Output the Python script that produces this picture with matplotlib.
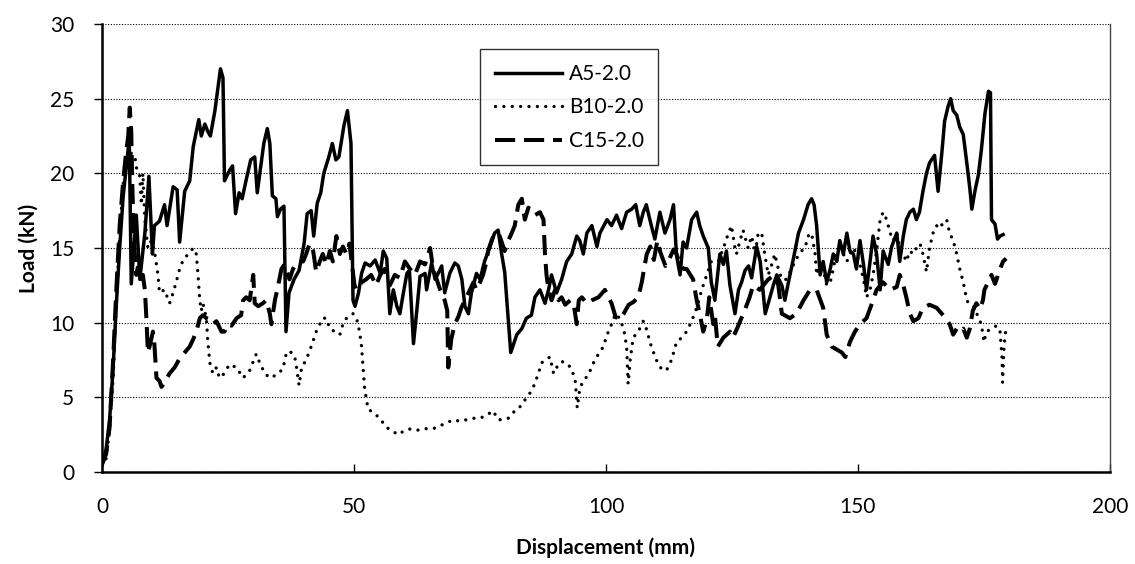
import matplotlib
matplotlib.use("Agg")
import matplotlib.pyplot as plt

plt.rcParams['font.family'] = ['Lato', 'DejaVu Sans']

# A5-2.0 (solid)
a5_x = [0.0, 0.8, 1.5, 2.2, 2.8, 3.5, 4.2, 5.0, 5.4, 5.8, 6.8, 7.5, 8.5, 9.3, 10.0, 10.4, 11.4, 12.4,
        12.9, 14.1, 14.9, 15.4, 16.4, 17.4, 18.1, 19.2, 19.7, 20.4, 21.0, 21.5, 22.4, 23.5, 24.0, 24.3,
        25.3, 25.9, 26.5, 27.2, 27.8, 28.5, 29.5, 30.3, 30.8, 31.5, 32.1, 32.8, 33.3, 33.8, 34.5, 34.8,
        35.4, 36.1, 36.5, 37.1, 38.1, 39.1, 40.1, 40.7, 41.5, 42.0, 42.7, 43.4, 44.0, 45.0, 45.7, 46.4,
        47.0, 48.0, 48.7, 49.4, 49.8, 50.2, 50.9, 51.5, 52.2, 53.2, 54.2, 55.2, 55.8, 56.5, 57.1, 57.8,
        58.5, 59.1, 59.8, 60.5, 61.0, 61.8, 62.4, 63.1, 64.1, 64.4, 65.4, 66.1, 66.7, 67.4, 68.0, 69.0,
        70.0, 70.7, 71.4, 72.0, 72.7, 73.3, 74.3, 75.0, 75.9, 76.9, 77.9, 78.6, 79.3, 79.9, 80.6, 81.1,
        81.6, 82.3, 83.3, 84.2, 85.2, 85.9, 86.9, 87.9, 88.6, 89.2, 90.2, 91.2, 92.2, 93.2, 94.2, 94.8,
        95.5, 96.2, 97.2, 98.2, 98.8, 100.2, 101.1, 102.1, 103.1, 104.1, 105.1, 105.9, 106.7, 107.4,
        108.0, 109.0, 109.7, 110.7, 111.7, 112.7, 113.4, 114.0, 114.7, 115.3, 116.0, 117.0, 118.0,
        118.6, 119.3, 120.3, 120.9, 121.6, 122.6, 123.3, 123.9, 124.6, 125.6, 126.3, 126.9, 127.6,
        128.3, 128.9, 129.9, 130.6, 131.6, 132.2, 133.2, 133.9, 134.9, 135.5, 136.2, 137.2, 138.2,
        139.2, 140.1, 140.8, 141.3, 141.8, 142.5, 143.1, 143.8, 144.5, 145.1, 145.8, 146.4, 147.1,
        147.8, 148.4, 149.1, 149.7, 150.4, 151.1, 151.7, 152.4, 153.0, 153.7, 154.4, 155.0, 156.0,
        156.7, 157.7, 158.3, 159.0, 159.6, 160.3, 161.0, 161.6, 162.2, 162.9, 163.6, 164.2, 165.2,
        165.9, 166.6, 167.2, 167.9, 168.4, 168.9, 169.6, 170.2, 170.9, 171.6, 172.2, 172.6, 173.2,
        173.9, 174.5, 175.2, 175.9, 176.3, 176.5, 177.2, 177.7, 178.2, 178.8]
a5_y = [0.5, 1.5, 3.5, 7.0, 11.0, 15.0, 18.5, 21.0, 22.4, 12.6, 17.2, 12.9, 16.0, 19.8, 14.6, 16.5, 16.8, 17.9,
        16.5, 19.1, 18.9, 15.4, 18.8, 19.5, 21.8, 23.6, 22.5, 23.3, 22.8, 22.5, 24.2, 27.0, 26.4, 19.5,
        20.2, 20.5, 17.3, 18.7, 18.3, 19.4, 20.9, 21.1, 18.7, 20.5, 22.0, 23.0, 22.0, 18.5, 18.3, 17.1,
        17.6, 17.8, 9.4, 12.0, 12.9, 13.5, 15.3, 17.3, 17.5, 15.8, 18.0, 18.7, 20.0, 21.1, 22.0, 20.9,
        21.1, 23.2, 24.2, 22.0, 11.5, 11.1, 12.0, 13.3, 14.0, 13.8, 14.2, 13.3, 14.8, 14.3, 10.6, 12.2,
        11.1, 10.6, 12.0, 13.3, 13.5, 8.6, 10.6, 13.1, 13.3, 12.2, 14.0, 12.9, 13.3, 13.8, 12.0, 13.3,
        14.0, 13.8, 12.9, 11.1, 10.6, 12.0, 13.3, 12.9, 14.1, 15.0, 16.0, 16.2, 14.6, 13.4, 10.3, 8.0,
        8.5, 9.2, 9.6, 10.3, 10.5, 11.7, 12.2, 11.3, 12.2, 13.2, 12.0, 12.9, 14.1, 14.6, 15.8, 15.5,
        14.6, 16.0, 16.5, 15.1, 16.0, 16.9, 16.5, 17.2, 16.3, 17.4, 17.6, 17.9, 16.5, 17.4,
        17.9, 16.5, 15.6, 17.4, 16.0, 16.9, 17.9, 14.5, 13.2, 15.4, 15.0, 16.9, 17.4,
        16.5, 15.8, 15.0, 12.7, 11.5, 14.6, 13.9, 14.8, 12.5, 10.6, 12.2, 12.7, 13.5,
        13.8, 13.0, 15.1, 14.1, 10.6, 11.3, 12.5, 13.2, 12.5, 11.5, 12.7, 14.3, 16.0,
        16.9, 17.9, 18.3, 17.9, 16.5, 13.2, 14.1, 12.7, 13.6, 14.6, 14.1, 15.5, 14.6,
        16.0, 14.8, 14.6, 13.6, 15.5, 13.9, 12.2, 14.1, 15.8, 14.6, 12.2, 14.8, 13.9,
        15.1, 16.0, 14.1, 15.8, 16.9, 17.4, 17.6, 16.9, 17.4, 18.8, 20.0, 20.7, 21.2,
        18.8, 21.2, 23.5, 24.5, 25.0, 24.2, 23.9, 23.1, 22.6, 20.7, 19.0, 17.6, 18.8,
        19.9, 21.6, 24.0, 25.5, 25.4, 16.9, 16.6, 15.6, 15.8, 15.9]

# B10-2.0 (dotted)
b10_x = [0.0, 0.8, 1.5, 2.2, 2.8, 3.5, 4.2, 4.8, 5.5, 6.5, 6.8, 7.5, 7.8, 8.1, 8.5, 9.1, 9.8, 10.4, 11.1,
         11.4, 12.4, 13.4, 14.1, 14.7, 15.4, 16.1, 17.1, 18.1, 18.7, 19.0, 19.4, 19.7, 20.0, 20.7, 21.0,
         21.4, 22.0, 22.7, 23.3, 24.0, 25.3, 26.7, 28.0, 29.3, 30.6, 31.3, 32.3, 33.3, 34.6, 35.9, 36.6,
         37.2, 38.2, 38.6, 39.1, 39.6, 40.5, 41.5, 42.5, 43.8, 44.5, 45.2, 46.2, 47.2, 47.8, 48.5, 49.8,
         50.5, 51.1, 51.5, 51.8, 52.1, 52.8, 53.8, 55.1, 56.4, 57.8, 58.8, 60.1, 61.4, 62.8, 64.1, 65.7,
         67.1, 68.4, 69.7, 71.0, 72.3, 73.7, 75.0, 76.3, 77.6, 78.6, 79.6, 80.6, 81.6, 82.6, 83.6, 84.6,
         85.6, 86.6, 87.2, 87.9, 88.9, 89.6, 90.2, 91.2, 92.2, 93.2, 93.9, 94.3, 94.8, 95.5, 96.5, 97.5,
         98.5, 99.5, 100.2, 100.8, 101.5, 102.1, 102.8, 103.5, 104.1, 104.4, 104.8, 105.4, 106.4, 107.4,
         108.0, 109.0, 110.0, 111.0, 112.0, 113.0, 114.0, 114.7, 116.0, 117.0, 118.0, 119.0, 120.0,
         120.9, 122.3, 123.3, 124.3, 124.9, 125.6, 125.9, 126.6, 127.2, 128.2, 128.9, 129.6, 130.2,
         130.9, 131.5, 132.2, 132.9, 133.5, 134.2, 134.9, 135.8, 136.8, 137.8, 138.8, 139.5, 140.1,
         140.8, 141.5, 141.8, 142.5, 143.1, 143.8, 144.5, 145.1, 145.8, 146.4, 147.1, 147.8, 148.4,
         149.1, 149.7, 150.4, 151.1, 151.7, 152.4, 153.0, 153.7, 154.4, 155.0, 155.7, 156.4, 157.0,
         157.7, 158.3, 159.0, 159.6, 160.3, 161.0, 161.6, 162.3, 162.9, 163.6, 164.2, 164.9, 165.6,
         166.2, 166.9, 167.6, 168.2, 168.9, 169.6, 170.2, 170.9, 171.6, 172.2, 173.2, 173.9, 174.5,
         175.0, 175.5, 176.5, 177.5, 178.2, 178.6, 178.7, 179.0, 179.3, 179.8]
b10_y = [0.4, 0.9, 2.8, 6.3, 11.0, 15.8, 19.3, 20.9, 21.4, 21.2, 20.4, 19.8, 17.9, 20.0, 16.9, 15.0, 15.5, 14.8, 13.2,
         12.0, 12.2, 11.3, 12.0, 12.7, 13.6, 14.2, 14.6, 15.0, 14.6, 13.4, 11.5, 10.8, 11.3, 10.3, 8.7,
         7.3, 6.6, 7.0, 6.3, 6.5, 7.2, 7.0, 6.3, 6.8, 7.9, 7.3, 6.6, 6.3, 6.5, 6.9, 8.0,
         8.1, 7.8, 7.0, 5.8, 7.0, 7.5, 8.4, 9.4, 10.3, 10.3, 9.6, 9.4, 9.2, 9.9, 10.3, 10.6,
         10.3, 9.4, 8.4, 7.0, 5.6, 4.2, 4.0, 3.6, 3.0, 2.7, 2.5, 2.8, 2.9, 2.8, 2.9, 2.9,
         3.1, 3.3, 3.5, 3.4, 3.5, 3.6, 3.6, 3.8, 4.1, 3.5, 3.5, 3.6, 4.0, 4.2, 4.7, 5.1,
         5.7, 6.6, 7.3, 7.5, 7.7, 6.6, 7.0, 7.4, 7.3, 6.9, 6.1, 4.3, 5.6, 6.1, 6.5, 7.3,
         7.9, 8.4, 9.2, 9.6, 10.3, 10.6, 10.2, 9.6, 8.4, 5.9, 7.5, 9.0, 9.4, 10.1,
         9.6, 8.4, 7.5, 6.9, 6.8, 7.5, 8.7, 8.9, 9.4, 10.1, 11.0, 12.2, 13.2,
         14.1, 14.1, 15.0, 16.0, 16.5, 15.0, 14.6, 15.5, 16.2, 15.0, 15.8, 14.6, 16.0,
         16.0, 14.6, 13.2, 13.9, 14.6, 13.6, 12.9, 12.9, 13.6, 14.3, 14.8, 15.0, 15.8,
         16.0, 14.6, 13.2, 14.1, 13.6, 12.5, 12.7, 13.6, 14.8, 15.0, 14.6, 14.1, 14.6,
         15.0, 14.6, 13.9, 12.9, 11.7, 12.2, 13.2, 14.8, 16.9, 17.4, 16.9, 16.0, 15.5,
         16.0, 15.0, 14.6, 14.1, 14.8, 14.6, 15.0, 15.3, 14.6, 13.4, 15.0, 16.0, 16.5,
         16.3, 16.7, 16.9, 16.0, 15.5, 14.6, 13.6, 12.7, 11.5, 11.2, 11.0, 10.3, 9.9,
         8.7, 9.4, 9.6, 9.8, 9.4, 7.6, 6.0, 8.5, 9.4, 9.1]

# C15-2.0 (dashed)
c15_x = [0.0, 0.8, 1.5, 2.2, 2.8, 3.5, 4.2, 4.8, 5.2, 5.5, 5.8, 6.0, 6.2, 6.5, 6.8, 7.1, 7.5, 8.1, 8.5, 8.8,
         9.1, 9.5, 10.1, 10.4, 10.8, 11.4, 11.8, 12.4, 13.4, 14.4, 15.4, 16.4, 17.4, 18.1, 18.7, 19.4,
         20.0, 20.7, 21.4, 22.0, 22.7, 23.7, 24.3, 25.0, 25.7, 26.7, 27.6, 28.0, 28.6, 29.3, 30.0, 30.3,
         31.0, 31.9, 32.6, 33.3, 33.6, 34.3, 34.9, 35.6, 36.2, 37.2, 37.9, 38.9, 39.9, 40.5, 41.2, 41.9,
         42.5, 43.2, 43.8, 44.5, 45.2, 45.8, 46.5, 47.2, 47.8, 48.5, 49.1, 50.1, 50.5, 51.5, 52.4, 53.4,
         54.4, 55.2, 56.1, 57.1, 58.1, 59.1, 60.1, 61.1, 62.1, 63.1, 64.1, 65.1, 65.7, 66.4, 67.1, 68.0,
         68.5, 68.7, 69.3, 70.0, 70.7, 71.3, 72.3, 73.0, 73.7, 74.3, 75.0, 75.6, 76.3, 76.6, 77.3, 77.9,
         78.9, 79.9, 80.6, 81.3, 81.9, 82.6, 83.3, 83.9, 84.6, 85.2, 85.9, 86.9, 87.6, 87.9, 88.2, 88.6,
         89.2, 89.9, 90.6, 91.2, 91.9, 92.9, 93.6, 94.2, 94.6, 95.2, 96.2, 97.2, 98.5, 99.8, 100.5,
         101.1, 101.9, 102.6, 103.5, 104.5, 105.5, 106.4, 107.1, 107.5, 108.1, 108.8, 109.5, 110.2,
         110.8, 111.8, 112.5, 113.4, 114.0, 114.7, 115.4, 116.0, 117.3, 118.0, 118.6, 119.3, 120.0,
         120.5, 121.3, 121.6, 122.2, 123.3, 124.6, 125.2, 126.0, 127.5, 128.5, 129.2, 130.5, 132.2,
         133.5, 134.2, 134.9, 136.5, 137.8, 139.2, 140.5, 141.8, 143.1, 143.8, 144.8, 145.8, 146.8,
         147.5, 148.4, 149.4, 150.4, 151.7, 153.0, 153.7, 155.0, 156.4, 157.7, 158.3, 159.0, 159.6,
         160.3, 161.0, 162.0, 162.9, 164.2, 165.6, 166.9, 168.2, 168.9, 169.6, 170.2, 170.9, 171.6,
         172.2, 172.8, 173.5, 174.2, 174.8, 175.1, 175.8, 176.5, 177.2, 178.2, 178.8, 179.4]
c15_y = [0.5, 1.2, 3.0, 7.5, 12.0, 16.5, 19.5, 21.5, 22.5, 24.4, 22.8, 19.3, 16.9, 14.6, 13.2, 13.7, 12.7, 13.2, 12.2, 10.3,
         8.0, 8.5, 9.4, 8.5, 6.3, 6.1, 5.7, 6.0, 6.6, 7.0, 7.6, 8.0, 8.4, 8.9, 9.4, 10.3,
         10.5, 10.3, 10.2, 9.9, 10.1, 9.4, 9.4, 9.9, 9.8, 10.3, 10.5, 11.5, 11.7, 11.5, 13.2, 11.3,
         11.1, 11.3, 11.5, 10.6, 9.9, 11.5, 12.4, 13.6, 13.9, 12.9, 13.6, 14.1, 14.1, 14.6, 15.3, 14.8,
         13.4, 14.1, 14.6, 13.9, 14.8, 14.1, 15.8, 14.6, 15.1, 14.6, 15.3, 12.5, 12.2, 12.7, 12.9, 13.2,
         12.5, 13.2, 13.6, 12.5, 13.2, 13.0, 14.1, 13.6, 13.2, 14.1, 13.9, 15.0, 13.6, 12.9, 12.2, 11.5,
         10.8, 7.0, 8.9, 9.9, 10.4, 11.0, 11.7, 12.2, 12.7, 12.2, 12.7, 13.2, 14.1, 14.8, 15.5, 16.0,
         15.8, 14.8, 15.5, 16.0, 16.5, 17.9, 18.3, 16.9, 17.7, 17.5, 17.2, 17.4, 16.9, 14.6, 13.2, 12.2,
         11.5, 12.2, 11.5, 11.7, 11.2, 11.5, 11.2, 9.9, 11.5, 11.7, 11.3, 11.5, 11.7, 12.2, 11.7,
         11.3, 10.4, 10.2, 10.6, 11.2, 11.4, 11.7, 12.7, 13.5, 14.6, 15.1, 14.2, 15.5,
         14.7, 13.8, 14.2, 14.9, 14.6, 13.9, 13.6, 13.6, 12.9, 11.5, 10.6, 9.4, 10.2,
         11.7, 9.9, 10.5, 8.4, 9.0, 9.4, 9.0, 9.6, 10.8, 11.7, 12.5, 12.2, 12.9,
         13.2, 12.5, 10.6, 10.3, 10.6, 11.5, 12.2, 12.2, 11.0, 9.2, 8.4, 8.2, 8.0,
         7.7, 8.7, 9.4, 9.9, 10.3, 11.5, 12.2, 12.7, 12.2, 12.4, 13.2, 12.5, 11.7,
         10.6, 10.1, 10.3, 11.0, 11.2, 11.0, 10.5, 9.9, 9.2, 9.6, 9.4, 9.6, 9.0,
         9.6, 10.8, 11.3, 10.9, 11.5, 12.2, 12.7, 13.2, 12.6, 13.6, 14.1, 14.3]

fig = plt.figure(figsize=(11.35, 5.64), dpi=100)
ax = fig.add_axes([0.0899, 0.1631, 0.888, 0.7943])

ax.plot(a5_x, a5_y, color='black', lw=2.5, solid_joinstyle='round', label='A5-2.0')
ax.plot(b10_x, b10_y, color='black', lw=2.4, linestyle=(0, (0.01, 2.5)),
        dash_capstyle='round', label='B10-2.0')
ax.plot(c15_x, c15_y, color='black', lw=2.9, linestyle=(0, (5.0, 2.2)),
        dash_capstyle='butt', label='C15-2.0')

ax.set_xlim(0, 200)
ax.set_ylim(0, 30)
ax.set_xticks([0, 50, 100, 150, 200])
ax.set_yticks([0, 5, 10, 15, 20, 25, 30])
ax.yaxis.grid(True, color='black', linestyle=(0, (1, 1.5)), linewidth=0.8)
ax.set_axisbelow(True)

ax.spines['top'].set_visible(False)
ax.spines['left'].set_linewidth(1.8)
ax.spines['bottom'].set_linewidth(1.8)
ax.spines['right'].set_linewidth(1.0)
ax.spines['right'].set_color('#444444')
ax.tick_params(axis='y', direction='out', length=6, width=1, labelsize=15, pad=14)
ax.tick_params(axis='x', direction='in', length=6, width=1, labelsize=15, pad=18)

ax.set_xlabel('Displacement (mm)', fontsize=15, fontweight='bold', labelpad=15)
ax.set_ylabel('Load (kN)', fontsize=15, fontweight='bold', labelpad=8)

leg = ax.legend(loc='upper left', bbox_to_anchor=(0.365, 0.967), fontsize=15,
                frameon=True, fancybox=False, handlelength=3.2, handletextpad=0.35,
                labelspacing=0.65, borderpad=0.7)
leg.get_frame().set_edgecolor('black')
leg.get_frame().set_linewidth(1.0)

fig.savefig('out.png', dpi=100)
